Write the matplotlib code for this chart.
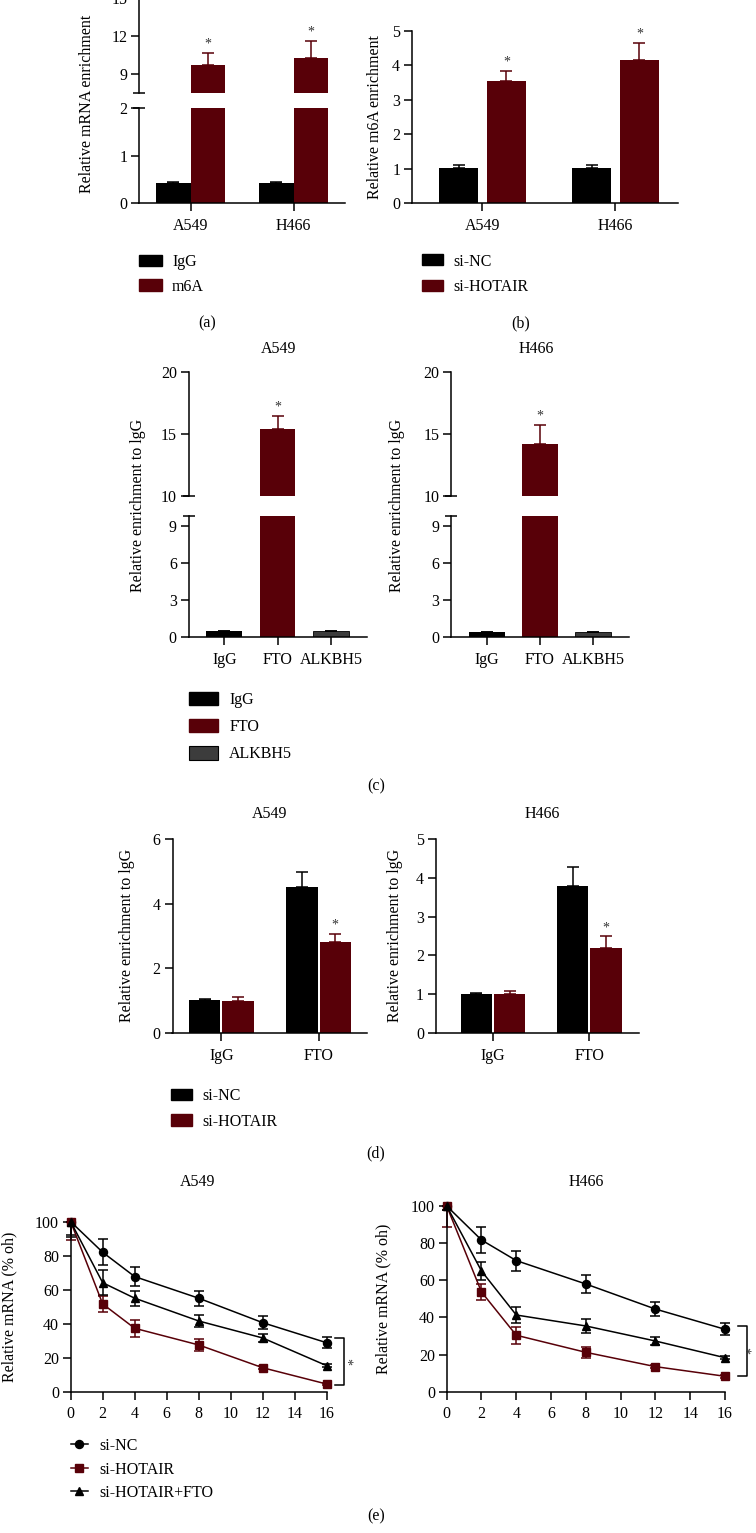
import numpy as np
import matplotlib
matplotlib.use("Agg")
import matplotlib.pyplot as plt
from matplotlib.patches import Patch
from matplotlib.lines import Line2D

plt.rcParams['font.family'] = ['Liberation Serif', 'DejaVu Serif']
FS = 11.5
plt.rcParams['font.size'] = FS

RED = '#580008'
GREY = '#3c3c3c'

# ---- data ----
a_groups = ['A549', 'H466']
a_igg = [0.43, 0.43]
a_igg_err = [0.01, 0.01]
a_m6a = [9.7, 10.3]
a_m6a_err = [0.95, 1.3]

b_groups = ['A549', 'H466']
b_sinc = [1.02, 1.02]
b_sinc_err = [0.09, 0.09]
b_hot = [3.54, 4.16]
b_hot_err = [0.29, 0.49]

c_cats = ['IgG', 'FTO', 'ALKBH5']
c_a549 = [0.45, 15.38, 0.45]
c_a549_err = [0.04, 1.07, 0.04]
c_h466 = [0.40, 14.18, 0.40]
c_h466_err = [0.04, 1.56, 0.04]

d_cats = ['IgG', 'FTO']
d_a549_sinc = [1.02, 4.52]
d_a549_sinc_err = [0.03, 0.45]
d_a549_hot = [1.00, 2.80]
d_a549_hot_err = [0.12, 0.26]
d_h466_sinc = [1.00, 3.78]
d_h466_sinc_err = [0.04, 0.49]
d_h466_hot = [1.00, 2.18]
d_h466_hot_err = [0.09, 0.31]

e_time = [0, 2, 4, 8, 12, 16]
e_a549_nc = [100, 82, 67.7, 55, 40.6, 28.8]
e_a549_nc_err = [9, 7.7, 5.8, 4.5, 3.9, 3.2]
e_a549_hot = [100, 51.6, 37.3, 27.5, 14.1, 4.5]
e_a549_hot_err = [10.8, 4.7, 4.9, 3.5, 1.0, 0.8]
e_a549_fto = [100, 64.1, 55, 41.6, 31.6, 15.3]
e_a549_fto_err = [8, 7.5, 4.5, 3.5, 2.2, 0.8]
e_h466_nc = [100, 81.7, 70.6, 58, 44.5, 33.6]
e_h466_nc_err = [2, 7.2, 5.4, 4.8, 3.8, 3.2]
e_h466_hot = [100, 53.7, 30.4, 21.2, 13.5, 8.3]
e_h466_hot_err = [11.5, 4.5, 4.6, 3.0, 1.0, 0.8]
e_h466_fto = [100, 65, 41.3, 35.4, 27.3, 18.3]
e_h466_fto_err = [2, 5, 4.5, 3.6, 2.3, 0.8]

W, H = 756, 1533
fig = plt.figure(figsize=(W / 100, H / 100), dpi=100)


def add_ax(l, t, r, b):
    return fig.add_axes([l / W, 1 - b / H, (r - l) / W, (b - t) / H])


def style(ax):
    for s in ['top', 'right']:
        ax.spines[s].set_visible(False)
    for s in ['left', 'bottom']:
        ax.spines[s].set_linewidth(1.1)
    ax.tick_params(direction='out', length=5.5, width=1.1, labelsize=FS, pad=3)
    ax.tick_params(axis='x', pad=5)


def end_cap(ax, where):
    # little horizontal bar that closes a broken axis
    y = 0 if where == 'bottom' else 1
    ax.plot([0], [y], marker='_', markersize=9, mew=1.1, color='k',
            transform=ax.transAxes, clip_on=False)


def bars(ax, x, vals, errs, color, width, edge=None):
    ax.bar(x, vals, width, color=color, edgecolor=edge if edge else color,
           linewidth=0.6 if edge else 0)
    ax.errorbar(x, vals, yerr=[np.zeros(len(vals)), errs], fmt='none',
                ecolor='k' if color != RED else RED, elinewidth=1.1,
                capsize=4.5, capthick=1.1)


def star(ax, x, y, dy=1.5):
    ax.annotate('*', (x, y), xytext=(0, dy), textcoords='offset points',
                ha='center', va='bottom', fontsize=10, color='#333333')


def ftext(x, y, s, **kw):
    fig.text(x / W, 1 - y / H, s, ha='center', va='center', **kw)


def legend(handles, labels, x, y, hl, hh, ls, pad):
    fig.legend(handles, labels, loc='upper left', bbox_to_anchor=(x / W, 1 - y / H),
               frameon=False, borderpad=0, borderaxespad=0, handlelength=hl,
               handleheight=hh, labelspacing=ls, handletextpad=pad, fontsize=FS)


# ---------------- (a) ----------------
xa = np.arange(len(a_groups))
w = 0.336
up = add_ax(139, -2, 345, 93)
lo = add_ax(139, 108, 345, 203)
for ax in (up, lo):
    style(ax)
    bars(ax, xa - w / 2, a_igg, a_igg_err, 'k', w)
    bars(ax, xa + w / 2, a_m6a, a_m6a_err, RED, w)
    ax.set_xlim(-0.5, 1.5)
up.set_ylim(7.5, 15)
up.set_yticks([9, 12, 15])
up.spines['bottom'].set_visible(False)
up.set_xticks([])
end_cap(up, 'bottom')
lo.set_ylim(0, 2)
lo.set_yticks([0, 1, 2])
lo.set_xticks(xa)
lo.set_xticklabels(a_groups)
end_cap(lo, 'top')
for i in range(len(a_groups)):
    star(up, xa[i] + w / 2, a_m6a[i] + a_m6a_err[i])
ftext(87, 104, 'Relative mRNA enrichment', rotation=90)
legend([Patch(color='k'), Patch(color=RED)], ['IgG', 'm6A'],
       139, 254, 1.44, 0.75, 0.55, 0.63)
ftext(207, 323, '(a)')

# ---------------- (b) ----------------
xb = np.arange(len(b_groups))
ax = add_ax(412, 30.7, 678, 203)
style(ax)
wb = 0.293
bars(ax, xb - 0.18, b_sinc, b_sinc_err, 'k', wb)
bars(ax, xb + 0.18, b_hot, b_hot_err, RED, wb)
for i in range(len(b_groups)):
    star(ax, xb[i] + 0.18, b_hot[i] + b_hot_err[i])
ax.set_xlim(-0.53, 1.47)
ax.set_ylim(0, 5)
ax.set_yticks(range(6))
ax.set_xticks(xb)
ax.set_xticklabels(b_groups)
ftext(375, 117, 'Relative m6A enrichment', rotation=90)
legend([Patch(color='k'), Patch(color=RED)], ['si-NC', 'si-HOTAIR'],
       422, 253.5, 1.31, 0.69, 0.6, 0.63)
ftext(521, 323, '(b)')

# ---------------- (c) ----------------
xc = np.arange(len(c_cats))
c_cols = ['k', RED, GREY]
for (l, r, title, vals, errs, tx, lx) in [
        (188.6, 367.1, 'A549', c_a549, c_a549_err, 278.6, 137.5),
        (451.1, 629.3, 'H466', c_h466, c_h466_err, 536.4, 397)]:
    up = add_ax(l, 372, r, 496)
    lo = add_ax(l, 516, r, 637)
    for a in (up, lo):
        style(a)
        for i in range(len(c_cats)):
            bars(a, [xc[i]], [vals[i]], [errs[i]], c_cols[i], 0.67,
                 edge='k' if i == 2 else None)
        a.set_xlim(-0.67, 2.68)
    up.set_ylim(10, 20)
    up.set_yticks([10, 15, 20])
    up.spines['bottom'].set_visible(False)
    up.set_xticks([])
    end_cap(up, 'bottom')
    lo.set_ylim(0, 9.8)
    lo.set_yticks([0, 3, 6, 9])
    lo.set_xticks(xc)
    lo.set_xticklabels(c_cats)
    end_cap(lo, 'top')
    star(up, xc[1], vals[1] + errs[1])
    ftext(tx, 349, title)
    ftext(lx, 505, 'Relative enrichment to lgG', rotation=90)
legend([Patch(color='k'), Patch(color=RED), Patch(facecolor=GREY, edgecolor='k', lw=0.8)],
       ['IgG', 'FTO', 'ALKBH5'], 188.6, 691.5, 1.83, 0.94, 0.68, 0.71)
ftext(376, 786, '(c)')

# ---------------- (d) ----------------
xd = np.arange(len(d_cats))
wd = 0.323
for (l, r, title, nc, nce, ht, hte, top, tx, lx, xl) in [
        (172.5, 367.1, 'A549', d_a549_sinc, d_a549_sinc_err, d_a549_hot, d_a549_hot_err,
         6, 269.6, 126.8, (-0.503, 1.5)),
        (435.7, 638.6, 'H466', d_h466_sinc, d_h466_sinc_err, d_h466_hot, d_h466_hot_err,
         5, 542, 394.6, (-0.593, 1.51))]:
    ax = add_ax(l, 839, r, 1033)
    style(ax)
    bars(ax, xd - 0.172, nc, nce, 'k', wd)
    bars(ax, xd + 0.172, ht, hte, RED, wd)
    star(ax, xd[1] + 0.172, ht[1] + hte[1])
    ax.set_xlim(*xl)
    ax.set_ylim(0, top)
    ax.set_yticks(range(0, top + 1, 2 if top == 6 else 1))
    ax.set_xticks(xd)
    ax.set_xticklabels(d_cats)
    ftext(tx, 814, title)
    ftext(lx, 935, 'Relative enrichment to lgG', rotation=90)
legend([Patch(color='k'), Patch(color=RED)], ['si-NC', 'si-HOTAIR'],
       171.4, 1088, 1.3, 0.75, 0.62, 0.65)
ftext(376, 1153, '(d)')

# ---------------- (e) ----------------
for (l, r, t, title, series, br, sx, sy, tx, lx, ly) in [
        (70.7, 326.7, 1221.7, 'A549',
         [(e_a549_nc, e_a549_nc_err), (e_a549_hot, e_a549_hot_err), (e_a549_fto, e_a549_fto_err)],
         (16.5, 17.1, 31.8, 3.9), 17.7, 18, 198, 9, 1307),
        (446.7, 725, 1206, 'H466',
         [(e_h466_nc, e_h466_nc_err), (e_h466_hot, e_h466_hot_err), (e_h466_fto, e_h466_fto_err)],
         (16.74, 17.26, 35.4, 8.4), 17.55, 22, 586, 383, 1299)]:
    ax = add_ax(l, t, r, 1391.7)
    style(ax)
    for (vals, errs), mk, col in zip(series, ['o', 's', '^'], ['k', RED, 'k']):
        upper = list(errs)
        upper[0] = 0  # nothing drawn above 100 at time 0
        ax.errorbar(e_time, vals, yerr=[errs, upper], color=col, marker=mk, markersize=5.8,
                    lw=1.1, elinewidth=1.1, capsize=3.5, capthick=1.1, clip_on=False)
    ax.set_xlim(0, 16)
    ax.set_ylim(0, 100)
    ax.set_xticks(range(0, 17, 2))
    ax.set_yticks(range(0, 101, 20))
    x0, x1, y0, y1 = br
    ax.plot([x0, x1, x1, x0], [y0, y0, y1, y1], color='k', lw=1.1, clip_on=False)
    ax.text(sx, sy, '*', rotation=90, ha='center', va='center', fontsize=10,
            color='#333333', clip_on=False)
    ftext(tx, 1182, title)
    ftext(lx, ly, 'Relative mRNA (% oh)', rotation=90)

e_handles = [Line2D([], [], color='k', marker='o', markersize=5.8, lw=1.1),
             Line2D([], [], color=RED, marker='s', markersize=5.8, lw=1.1),
             Line2D([], [], color='k', marker='^', markersize=5.8, lw=1.1)]
legend(e_handles, ['si-NC', 'si-HOTAIR', 'si-HOTAIR+FTO'], 71, 1438, 1.06, 0.7, 0.47, 0.69)
ftext(376, 1516, '(e)')

fig.savefig('out.png', dpi=100)
